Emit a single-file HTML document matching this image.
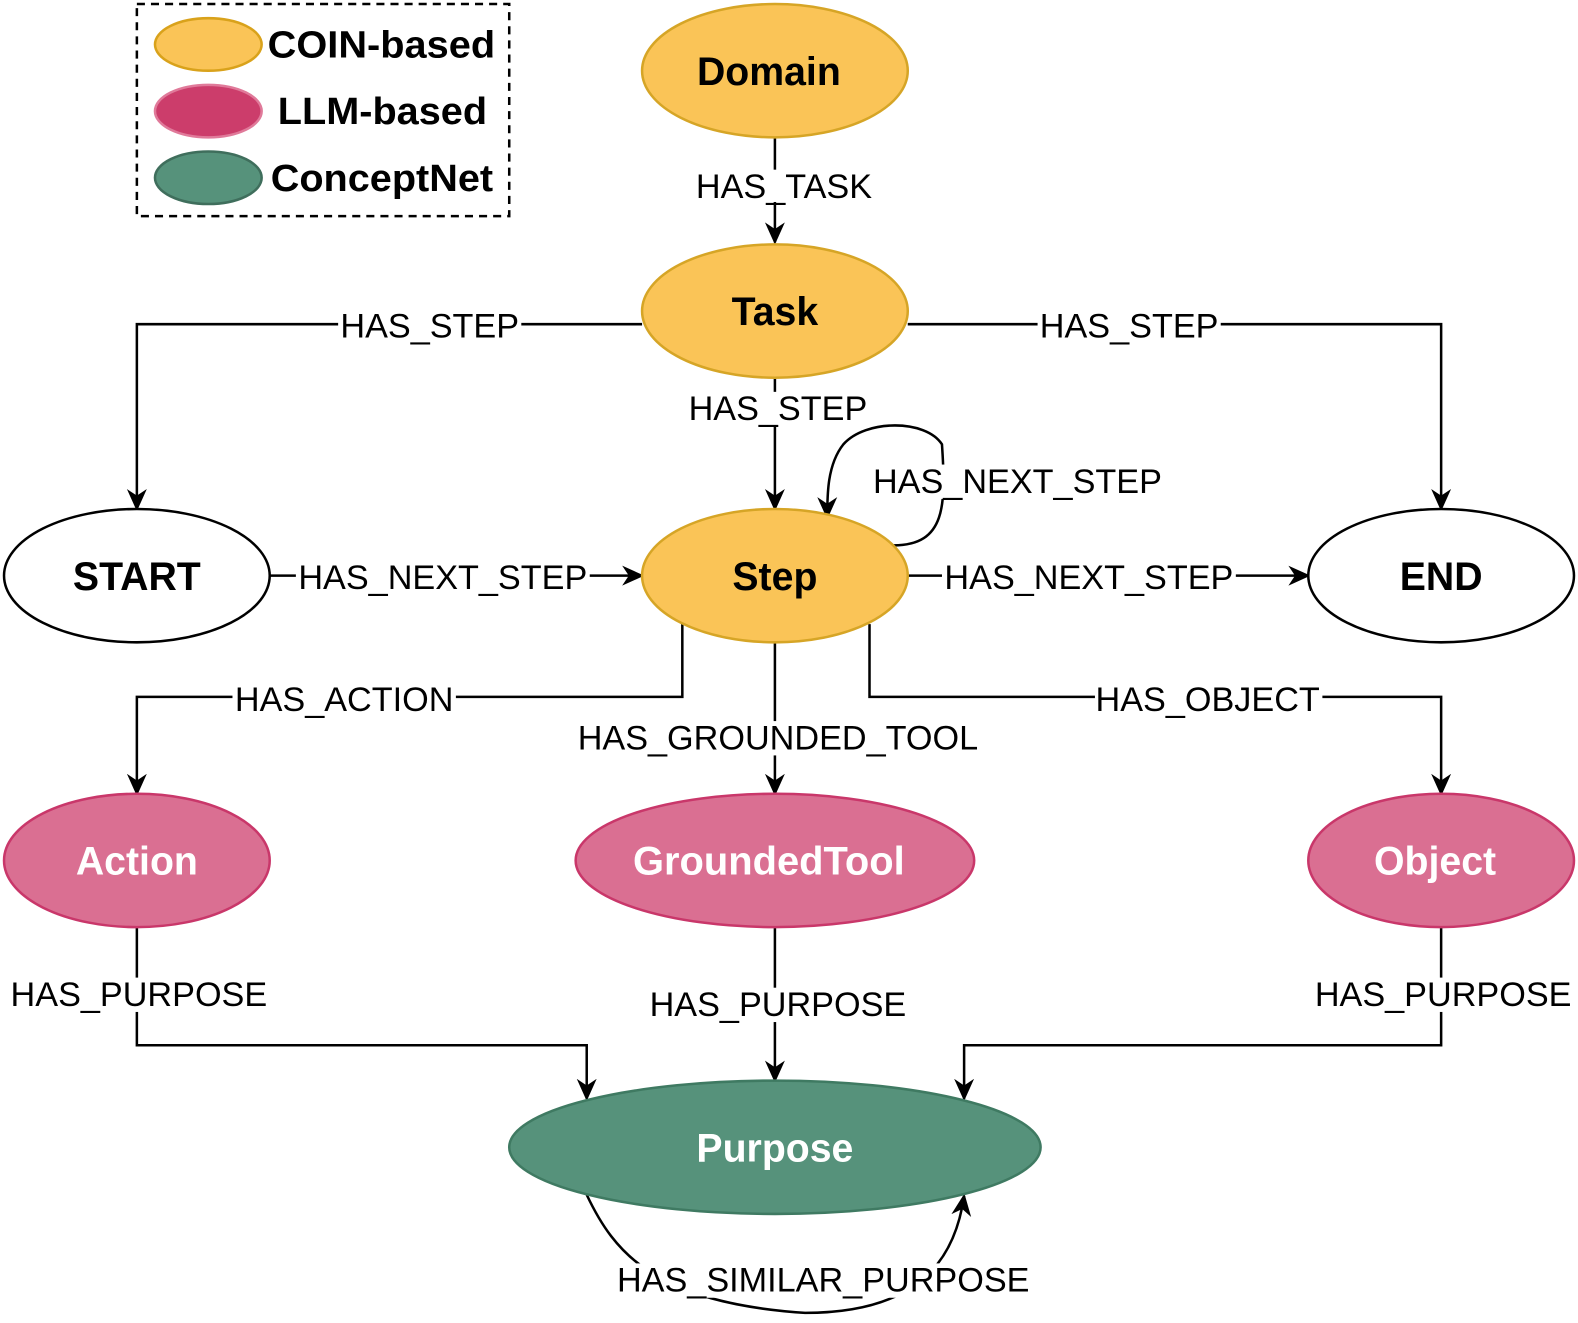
<!DOCTYPE html>
<html><head><meta charset="utf-8"><style>
html,body{margin:0;padding:0;background:#fff;}
svg{display:block;}
text{font-family:"Liberation Sans",Arial,sans-serif;}
.lb{font-size:34px;fill:#000;text-anchor:middle;}
.nd{font-size:39px;font-weight:bold;text-anchor:middle;}
.lg{font-size:38px;font-weight:bold;}
</style></head><body>
<svg width="1578" height="1323" viewBox="0 0 1568 1310" preserveAspectRatio="none" xmlns="http://www.w3.org/2000/svg">
<defs><marker id="a" viewBox="0 0 20 20" refX="18" refY="10" markerWidth="22" markerHeight="22" markerUnits="userSpaceOnUse" orient="auto"><path d="M0,1 L20,10 L0,19 L6,10 Z" fill="#000"/></marker></defs>
<g fill="none" stroke="#000" stroke-width="2.5">
<rect x="136" y="4" width="370" height="210" stroke-dasharray="8,6"/>
<path d="M770,136 V240" marker-end="url(#a)"/>
<path d="M638,321 H136 V504" marker-end="url(#a)"/>
<path d="M902,321 H1432 V504" marker-end="url(#a)"/>
<path d="M770,374 V504" marker-end="url(#a)"/>
<path d="M888,540 C940,540 940,500 936,440 C920,415 860,415 838,440 C822,460 822,490 822,512" marker-end="url(#a)"/>
<path d="M268,570 H638" marker-end="url(#a)"/>
<path d="M902,570 H1300" marker-end="url(#a)"/>
<path d="M678,618 V690 H136 V786" marker-end="url(#a)"/>
<path d="M770,636 V786" marker-end="url(#a)"/>
<path d="M864,618 V690 H1432 V786" marker-end="url(#a)"/>
<path d="M136,918 V1035 H583 V1088" marker-end="url(#a)"/>
<path d="M770,918 V1070" marker-end="url(#a)"/>
<path d="M1432,918 V1035 H958 V1088" marker-end="url(#a)"/>
<path d="M583,1183 C610,1240 650,1290 800,1300 C920,1300 950,1240 958,1184" marker-end="url(#a)"/>
</g>
<ellipse cx="207" cy="44" rx="53" ry="26" fill="#fac457" stroke="#d9a21b" stroke-width="2.5"/>
<ellipse cx="207" cy="110" rx="53" ry="26" fill="#cc3d6b" stroke="#e07a9a" stroke-width="2.5"/>
<ellipse cx="207" cy="176" rx="53" ry="26" fill="#56927b" stroke="#3f6e5c" stroke-width="2.5"/>
<text class="lg" x="266" y="57" textLength="226" lengthAdjust="spacingAndGlyphs">COIN-based</text>
<text class="lg" x="276" y="123" textLength="208" lengthAdjust="spacingAndGlyphs">LLM-based</text>
<text class="lg" x="269" y="189" textLength="221" lengthAdjust="spacingAndGlyphs">ConceptNet</text>
<g stroke-width="2.5">
<ellipse cx="770" cy="70" rx="132" ry="66" fill="#fac457" stroke="#d6a526"/>
<ellipse cx="770" cy="308" rx="132" ry="66" fill="#fac457" stroke="#d6a526"/>
<ellipse cx="770" cy="570" rx="132" ry="66" fill="#fac457" stroke="#d6a526"/>
<ellipse cx="136" cy="570" rx="132" ry="66" fill="#fff" stroke="#000"/>
<ellipse cx="1432" cy="570" rx="132" ry="66" fill="#fff" stroke="#000"/>
<ellipse cx="136" cy="852" rx="132" ry="66" fill="#da6f92" stroke="#c9376a"/>
<ellipse cx="770" cy="852" rx="198" ry="66" fill="#da6f92" stroke="#c9376a"/>
<ellipse cx="1432" cy="852" rx="132" ry="66" fill="#da6f92" stroke="#c9376a"/>
<ellipse cx="770" cy="1136" rx="264" ry="66" fill="#56927b" stroke="#3f7a62"/>
</g>
<text class="nd" x="764" y="84">Domain</text>
<text class="nd" x="770" y="322">Task</text>
<text class="nd" x="770" y="584">Step</text>
<text class="nd" x="136" y="584">START</text>
<text class="nd" x="1432" y="584">END</text>
<text class="nd" x="136" y="866" fill="#fff">Action</text>
<text class="nd" x="764" y="866" fill="#fff" textLength="270" lengthAdjust="spacingAndGlyphs">GroundedTool</text>
<text class="nd" x="1426" y="866" fill="#fff">Object</text>
<text class="nd" x="770" y="1150" fill="#fff">Purpose</text>
<g>
<rect x="690" y="168" width="178" height="32" fill="#fff"/>
<text class="lb" x="779" y="196">HAS_TASK</text>
<rect x="336" y="306" width="182" height="34" fill="#fff"/>
<text class="lb" x="427" y="334">HAS_STEP</text>
<rect x="1031" y="306" width="182" height="34" fill="#fff"/>
<text class="lb" x="1122" y="334">HAS_STEP</text>
<rect x="682" y="388" width="182" height="34" fill="#fff"/>
<text class="lb" x="773" y="416">HAS_STEP</text>
<rect x="864" y="460" width="294" height="34" fill="#fff"/>
<text class="lb" x="1011" y="488">HAS_NEXT_STEP</text>
<rect x="294" y="554" width="292" height="34" fill="#fff"/>
<text class="lb" x="440" y="583">HAS_NEXT_STEP</text>
<rect x="936" y="554" width="292" height="34" fill="#fff"/>
<text class="lb" x="1082" y="583">HAS_NEXT_STEP</text>
<rect x="231" y="676" width="222" height="34" fill="#fff"/>
<text class="lb" x="342" y="704">HAS_ACTION</text>
<rect x="570" y="714" width="406" height="34" fill="#fff"/>
<text class="lb" x="773" y="742">HAS_GROUNDED_TOOL</text>
<rect x="1088" y="676" width="226" height="34" fill="#fff"/>
<text class="lb" x="1200" y="704">HAS_OBJECT</text>
<rect x="8" y="968" width="260" height="34" fill="#fff"/>
<text class="lb" x="138" y="996">HAS_PURPOSE</text>
<rect x="643" y="978" width="260" height="34" fill="#fff"/>
<text class="lb" x="773" y="1006">HAS_PURPOSE</text>
<rect x="1304" y="968" width="260" height="34" fill="#fff"/>
<text class="lb" x="1434" y="996">HAS_PURPOSE</text>
<rect x="610" y="1251" width="416" height="34" fill="#fff"/>
<text class="lb" x="818" y="1279">HAS_SIMILAR_PURPOSE</text>
</g>
</svg>
</body></html>
